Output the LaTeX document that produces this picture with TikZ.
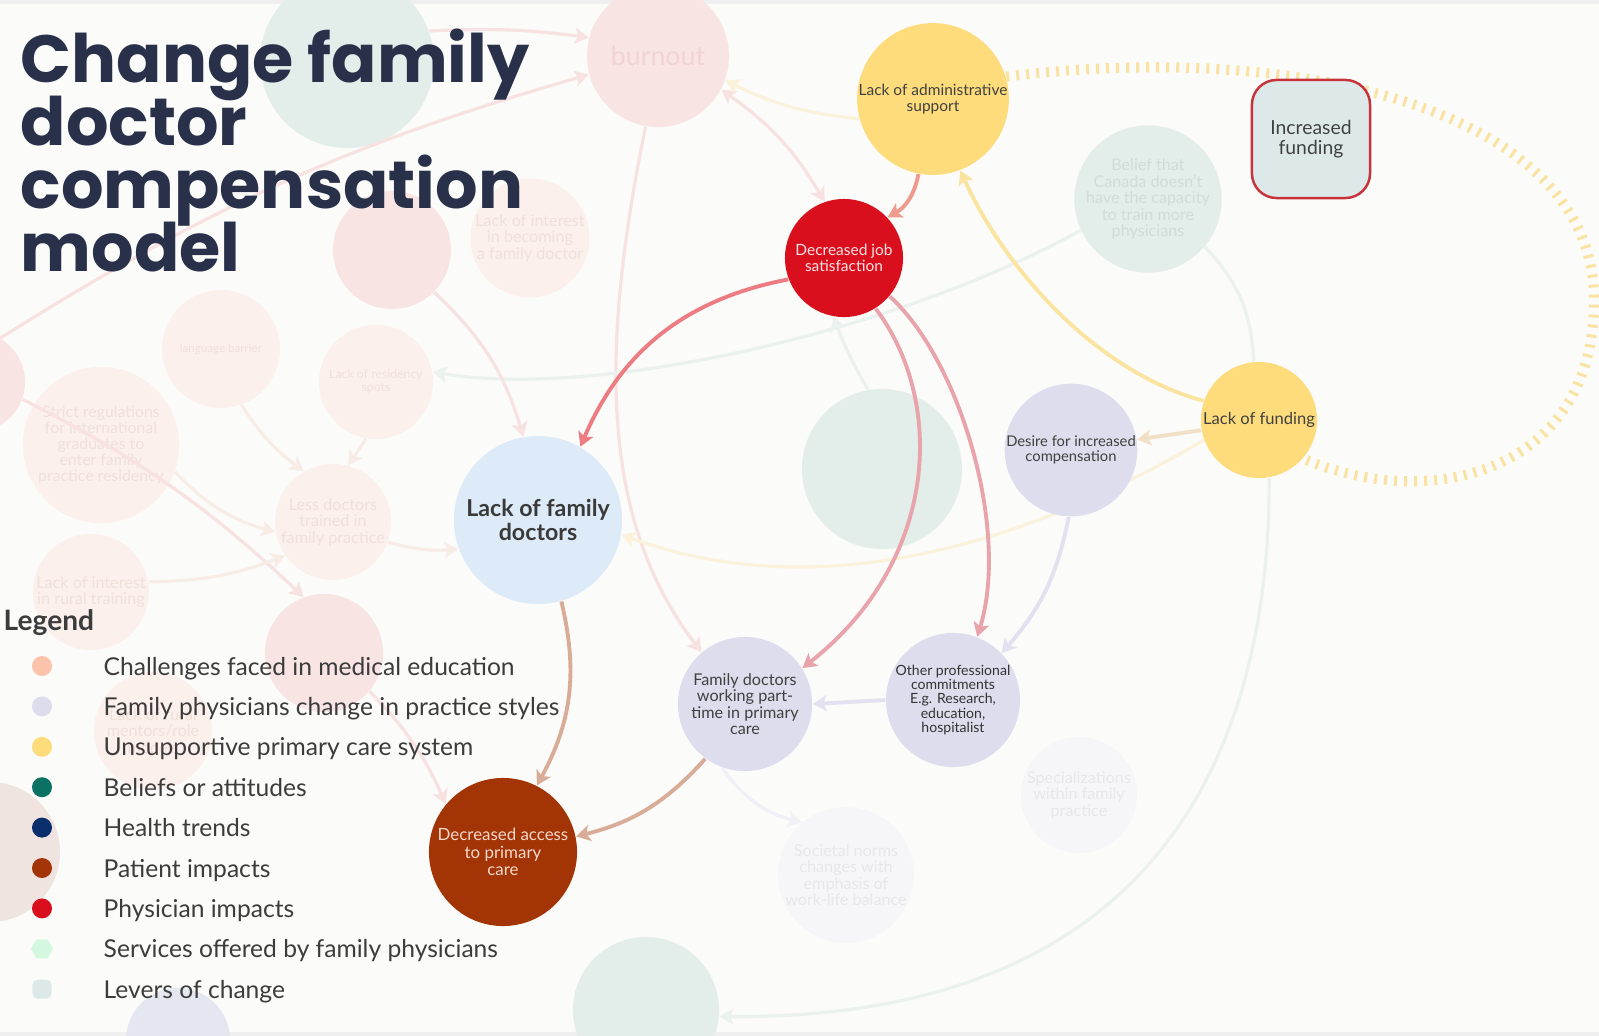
\documentclass[tikz,border=0pt]{standalone}
\usepackage{fontspec}
\setmainfont{Lato}
\newfontfamily\headfont{Poppins}
\usetikzlibrary{arrows.meta, shapes.geometric}
\newcommand\titlestyle{\headfont\bfseries\fontsize{19}{17.9}\selectfont\lineskiplimit=-20pt\relax}

\definecolor{paper}{HTML}{FBFBF9}
\definecolor{strip}{HTML}{EFEFEF}
\definecolor{headink}{HTML}{28304A}
\definecolor{legink}{HTML}{3C3C3C}
\definecolor{inkgray}{HTML}{404040}
\definecolor{peach}{HTML}{FCC2AA}
\definecolor{lav}{HTML}{DCDCEC}
\definecolor{sunyel}{HTML}{FEDC7C}
\definecolor{teal}{HTML}{0B7163}
\definecolor{navy}{HTML}{0B2E6C}
\definecolor{rust}{HTML}{A33405}
\definecolor{jobred}{HTML}{DA0F1D}
\definecolor{mint}{HTML}{D4F8DF}
\definecolor{leverfill}{HTML}{DDE9E8}
\definecolor{leverred}{HTML}{C8323A}
\definecolor{skyfill}{HTML}{DDEAF7}
\definecolor{lavfill}{HTML}{DEDDEE}
\definecolor{rusttxt}{HTML}{F6D8CC}
\definecolor{tickyel}{HTML}{FAE3A2}
% link colours
\definecolor{salmonlink}{HTML}{EE9A8E}
\definecolor{redlink}{HTML}{EC7B82}
\definecolor{pinklink}{HTML}{E9A3AB}
\definecolor{yellink}{HTML}{FBE4A0}
\definecolor{sandlink}{HTML}{F1E0C6}
\definecolor{lavlink}{HTML}{E3E1F0}
\definecolor{tanlink}{HTML}{D9AC98}
% faded background colours
\definecolor{pinkfade}{HTML}{F9E4E4}
\definecolor{pinkink}{HTML}{F2D3D3}
\definecolor{peachfade}{HTML}{FBF0EC}
\definecolor{tealfade}{HTML}{E3EEEB}
\definecolor{lavfade}{HTML}{F6F6F9}
\definecolor{bluefade}{HTML}{E4E7EF}
\definecolor{greyfade}{HTML}{F0E4E1}
\definecolor{fadeink}{HTML}{F0E0DA}
\definecolor{pinkghost}{HTML}{F7E1E1}
\definecolor{tealghost}{HTML}{EAF1EF}
\definecolor{yelghost}{HTML}{FBF2DC}
\definecolor{peachghost}{HTML}{F8ECE7}
\definecolor{lavghost}{HTML}{F0F0F6}

\pgfdeclarelayer{base}
\pgfdeclarelayer{mid}
\pgfsetlayers{base,mid,main}

\tikzset{
  bubble/.style={circle, inner sep=0pt, align=center, minimum size=#1},
  ghostnode/.style={bubble=#1, text=fadeink, font=\fontsize{4.6}{4.7}\selectfont},
  link/.style={line width=1.1pt, ->},
  ghost/.style={line width=0.9pt, ->},
  ticks/.style={draw=tickyel, line width=2.9pt, dash pattern=on 0.85pt off 2pt},
  legdot/.style={circle, inner sep=0pt, minimum size=0.2cm},
  legtxt/.style={anchor=base west, inner sep=0pt, text=legink, font=\fontsize{7}{8}\selectfont},
}

\begin{document}
\begin{tikzpicture}[x=0.01cm, y=-0.01cm, >={Stealth[length=4pt, width=4.6pt, inset=1pt]}]
\useasboundingbox (0,0) rectangle (1599,1036);

\begin{pgfonlayer}{base}
\fill[paper] (0,0) rectangle (1599,1036);
\fill[strip] (0,0) rectangle (1599,4);
\fill[strip] (0,1032) rectangle (1599,1036);
% faded background bubbles
\node[bubble=1.42cm, fill=pinkfade, text=pinkink, font=\fontsize{7.6}{8}\selectfont] (burn) at (658,56) {burnout};
\node[bubble=1.74cm, fill=tealfade] (tealtl) at (347,61) {};
\node[bubble=1.18cm, fill=pinkfade] (pinka) at (392,250) {};
\node[ghostnode=1.18cm, fill=peachfade] (interest) at (530,238) {Lack of interest\\in becoming\\a family doctor};
\node[ghostnode=1.18cm, fill=peachfade, font=\fontsize{3.3}{3.5}\selectfont] (lang) at (221,349) {language barrier};
\node[ghostnode=1.14cm, fill=peachfade, font=\fontsize{3.5}{3.7}\selectfont] (resid) at (376,382) {Lack of residency\\spots};
\node[ghostnode=1.56cm, fill=peachfade, font=\fontsize{4.5}{4.6}\selectfont] (strict) at (101,445) {Strict regulations\\for international\\graduates to\\enter family\\practice residency};
\node[ghostnode=1.16cm, fill=peachfade] (less) at (333,522) {Less doctors\\trained in\\family practice};
\node[ghostnode=1.16cm, fill=peachfade] (rural) at (91,592) {Lack of interest\\in rural training};
\node[bubble=1.18cm, fill=pinkfade] (pinkb) at (324,653) {};
\node[ghostnode=1.18cm, fill=peachfade] (mentor) at (153,731) {Lack of rural\\mentors/role\\models};
\node[bubble=1.0cm, fill=pinkfade] (pinkl) at (-25,382) {};
\node[bubble=1.4cm, fill=greyfade] (pinklb) at (-10,852) {};
\node[bubble=1.46cm, fill=tealfade] (tealb) at (646,1010) {};
\node[bubble=1.04cm, fill=bluefade] (blueb) at (178,1040) {};
\node[ghostnode=1.44cm, fill=tealfade, text=tealfade!92!black] (belief) at (1148,199) {Belief that\\Canada doesn't\\have the capacity\\to train more\\physicians};
\node[bubble=1.6cm, fill=tealfade] (tealm) at (882,469) {};
\node[ghostnode=1.16cm, fill=lavfade, text=lavfade!94!black] (spec) at (1079,795) {Specializations\\within family\\practice};
\node[ghostnode=1.22cm, fill=lavfade, text=lavfade!94!black] (societal) at (846,875) {Societal norms\\changes with\\emphasis of\\work-life balance};
\end{pgfonlayer}

% main causal bubbles
\node[bubble=1.42cm, fill=sunyel, text=inkgray, font=\fontsize{4.4}{4.6}\selectfont] (adm) at (933,99) {Lack of administrative\\support};
\node[bubble=1.16cm, fill=sunyel, text=inkgray, font=\fontsize{4.7}{4.8}\selectfont] (fund) at (1259,420) {Lack of funding};
\node[rounded corners=7pt, draw=leverred, line width=0.7pt, fill=leverfill, minimum width=1.18cm, minimum height=1.18cm, align=center, text=inkgray, font=\fontsize{5.5}{5.8}\selectfont] (incfund) at (1311,139) {Increased\\funding};
\node[bubble=1.18cm, fill=jobred, text=white!88!jobred, font=\fontsize{4.4}{4.5}\selectfont] (djs) at (844,258) {Decreased job\\satisfaction};
\node[bubble=1.30cm, fill=lavfill, text=inkgray, font=\fontsize{4.2}{4.3}\selectfont] (desire) at (1071,450) {Desire for increased\\compensation};
\node[bubble=1.68cm, fill=skyfill, text=inkgray!90!black, font=\bfseries\fontsize{6.6}{7}\selectfont] (lackfd) at (538,520) {Lack of family\\doctors};
\node[bubble=1.34cm, fill=lavfill, text=inkgray!80!black, font=\fontsize{4}{4}\selectfont] (other) at (953,700) {Other professional\\commitments\\E.g. Research,\\education,\\hospitalist};
\node[bubble=1.34cm, fill=lavfill, text=inkgray, font=\fontsize{4.6}{4.65}\selectfont] (parttime) at (745,704) {Family doctors\\working part-\\time in primary\\care};
\node[bubble=1.48cm, fill=rust, text=rusttxt, font=\fontsize{4.8}{4.9}\selectfont] (access) at (503,852) {Decreased access\\to primary\\care};

\begin{pgfonlayer}{mid}
% faded links
\draw[ghost, pinkghost, <->] (burn.-28) to[bend left=12] (djs.109);
\draw[ghost, yelghost] (adm.195) to[bend left=10] (burn.-20);
\draw[ghost, pinkghost] (burn.-100) .. controls (600,350) and (600,520) .. (parttime.130);
\draw[ghost, tealghost] (belief.205) .. controls (900,330) and (600,400) .. (resid.10);
\draw[ghost, tealghost] (tealm.100) to[bend left=5] (djs.-100);
\draw[ghost, yelghost] (fund.200) .. controls (1000,560) and (800,600) .. (lackfd.-10);
\draw[ghost, tealghost, -] (belief.-40) to[bend left=20] (fund.95);
\draw[ghost, tealghost] (fund.-80) .. controls (1270,760) and (1150,1020) .. (tealb.-5);
\draw[ghost, pinkghost] (pinkl.60) to[bend left=8] (burn.195);
\draw[ghost, pinkghost] (tealtl.20) to[bend left=5] (burn.165);
\draw[ghost, pinkghost] (pinkl.-20) to[bend left=8] (pinkb.110);
\draw[ghost, pinkghost] (pinkb.-40) to[bend left=10] (access.140);
\draw[ghost, pinkghost] (pinka.-45) to[bend left=15] (lackfd.100);
\draw[ghost, peachghost] (lang.-70) to[bend right=10] (less.120);
\draw[ghost, peachghost] (resid.-100) -- (less.75);
\draw[ghost, peachghost] (strict.-20) to[bend right=15] (less.190);
\draw[ghost, peachghost] (rural.10) to[bend right=10] (less.215);
\draw[ghost, peachghost] (less.-20) to[bend right=10] (lackfd.200);
\draw[ghost, lavghost] (parttime.-110) to[bend right=20] (societal.130);
% reinforcing loop
\coordinate (loopeast) at (1594,306);
\draw[ticks] (adm.17) .. controls (1300,40) and (1600,110) .. (loopeast)
  .. controls (1590,480) and (1420,510) .. (fund.-41);
\end{pgfonlayer}

% main links
\draw[link, salmonlink] (adm.-101) to[bend left=25] (djs.43);
\draw[link, redlink] (djs.-159) to[bend right=28] (lackfd.60);
\draw[link, pinklink] (djs.-58) .. controls (945,400) and (940,560) .. (parttime.32);
\draw[link, pinklink] (djs.-40) .. controls (960,360) and (1010,530) .. (other.69);
\draw[link, yellink] (fund.161) .. controls (1090,370) and (1000,260) .. (adm.-69);
\draw[link, sandlink] (fund.190) -- (desire.9);
\draw[link, lavlink] (desire.-92) to[bend left=15] (other.44);
\draw[link, lavlink] (other.west) -- (parttime.east);
\draw[link, tanlink] (lackfd.-74) to[bend left=21] (access.63);
\draw[link, tanlink] (parttime.234) to[bend left=17] (access.12);

% title
\node[anchor=north west, align=left, inner sep=0pt, text=headink, font=\titlestyle] (title) at (20,28) {Change family\\doctor\\compensation\\model};

% legend
\node[anchor=base west, inner sep=0pt, text=legink, font=\bfseries\fontsize{8}{9}\selectfont] (legend) at (3,630) {Legend};
\foreach \col/\txt [count=\i] in {peach/Challenges faced in medical education,
  lav/Family physicians change in practice styles,
  sunyel/Unsupportive primary care system,
  teal/Beliefs or attitudes,
  navy/Health trends,
  rust/Patient impacts,
  jobred/Physician impacts}
{
  \node[legdot, fill=\col] (dot\i) at (42, 625.6+40.4*\i) {};
  \node[legtxt] (lab\i) at (103, 634.6+40.4*\i) {\txt};
}
\node[regular polygon, regular polygon sides=6, inner sep=0pt, minimum size=0.22cm, fill=mint] (dot8) at (42, 948.8) {};
\node[legtxt] (lab8) at (103, 957.8) {Services offered by family physicians};
\node[rounded corners=1.5pt, inner sep=0pt, minimum size=0.19cm, fill=leverfill] (dot9) at (42, 989.2) {};
\node[legtxt] (lab9) at (103, 998.2) {Levers of change};
\end{tikzpicture}
\end{document}
